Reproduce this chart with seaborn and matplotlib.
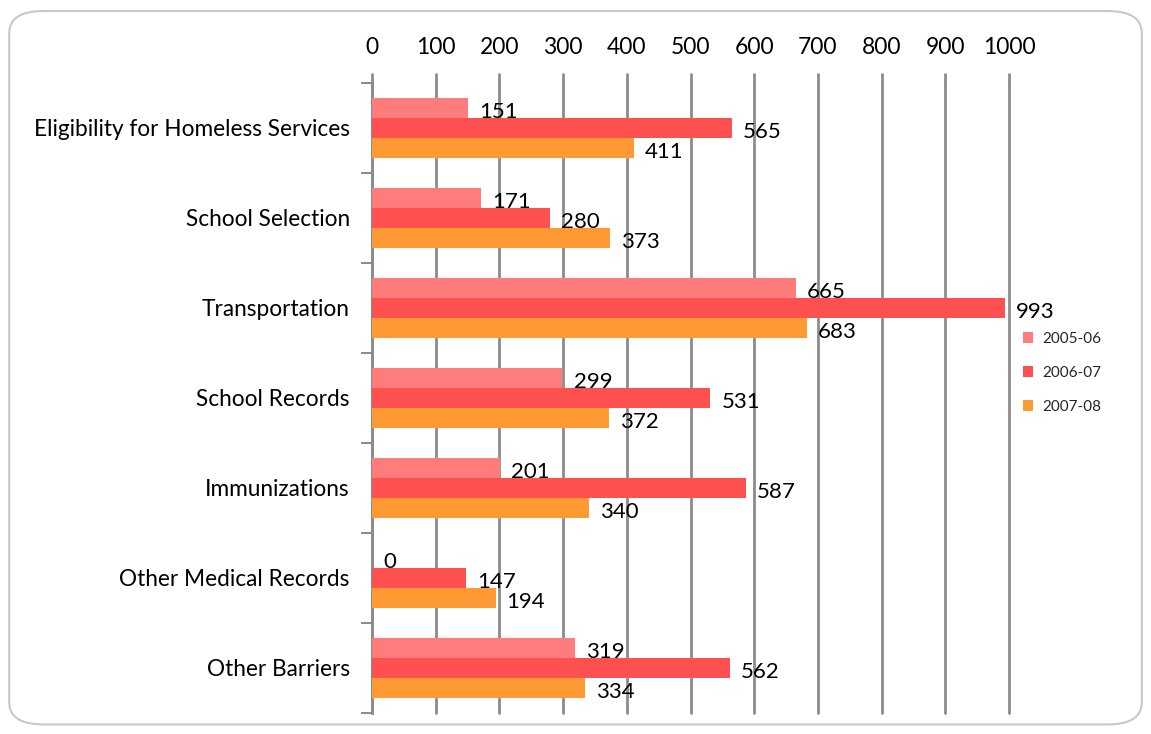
import matplotlib
matplotlib.use("Agg")
import matplotlib.pyplot as plt
import seaborn as sns
import pandas as pd
from matplotlib.patches import FancyBboxPatch

categories = ["Eligibility for Homeless Services", "School Selection", "Transportation",
              "School Records", "Immunizations", "Other Medical Records", "Other Barriers"]
series_names = ["2005-06", "2006-07", "2007-08"]
v2005 = [151, 171, 665, 299, 201, 0, 319]
v2006 = [565, 280, 993, 531, 587, 147, 562]
v2007 = [411, 373, 683, 372, 340, 194, 334]
colors = ["#FF7C7C", "#FF5050", "#FF9933"]
xticks = [0, 100, 200, 300, 400, 500, 600, 700, 800, 900, 1000]

rows = []
for name, vals in zip(series_names, [v2005, v2006, v2007]):
    for c, v in zip(categories, vals):
        rows.append({"Category": c, "Series": name, "Value": v})
df = pd.DataFrame(rows)

sns.set_theme(style="white")
plt.rcParams['font.family'] = ['Lato', 'DejaVu Sans']

fig = plt.figure(figsize=(11.51, 7.34), dpi=100)
border = FancyBboxPatch((0.008, 0.013), 0.984, 0.972, boxstyle="round,pad=0,rounding_size=0.03",
                        transform=fig.transFigure, facecolor="white", edgecolor="#C8C8C8",
                        linewidth=1.5, zorder=-1)
fig.patches.append(border)

ax = fig.add_axes([372/1151, 1-713/734, (1009-372)/1151, (713-83)/734])
sns.barplot(data=df, y="Category", x="Value", hue="Series", orient="h",
            palette=colors, width=0.667, dodge=True, ax=ax, saturation=1,
            linewidth=0, zorder=3)

ax.set_xlim(0, 1000)
ax.set_ylim(6.5, -0.5)
ax.set_xticks(xticks)
ax.xaxis.tick_top()
ax.tick_params(axis="x", which="major", length=7, width=2, color="#8C8C8C",
               labelsize=16.5, pad=11, labelcolor="black")
ax.set_yticks(range(len(categories)))
ax.set_yticklabels(categories)
ax.tick_params(axis="y", which="major", length=0, labelsize=16.3, pad=16, labelcolor="black")
ax.set_yticks([i - 0.5 for i in range(len(categories) + 1)], minor=True)
ax.tick_params(axis="y", which="minor", length=8, width=1.5, color="#8C8C8C", left=True)
ax.grid(axis="x", color="#8C8C8C", linewidth=2, zorder=0)
for gl in ax.get_xgridlines():
    gl.set_clip_on(False)
ax.set_axisbelow(True)
for s in ["top", "right", "bottom"]:
    ax.spines[s].set_visible(False)
ax.spines["left"].set_color("#8C8C8C")
ax.spines["left"].set_linewidth(2)
ax.set_xlabel("")
ax.set_ylabel("")

for cont in ax.containers:
    texts = ax.bar_label(cont, labels=[f"{int(v)}" for v in cont.datavalues], padding=8,
                         fontsize=16, color="black")
    for t in texts:
        t.set_va("center")
        x0, y0 = t.xyann
        t.xyann = (x0, y0 - 3)

ax.legend(loc="center left", bbox_to_anchor=(1.0, 0.54), frameon=False, fontsize=11,
          handlelength=0.7, handleheight=0.7, labelspacing=1.3, handletextpad=0.6)

fig.savefig("out.png", dpi=100)
